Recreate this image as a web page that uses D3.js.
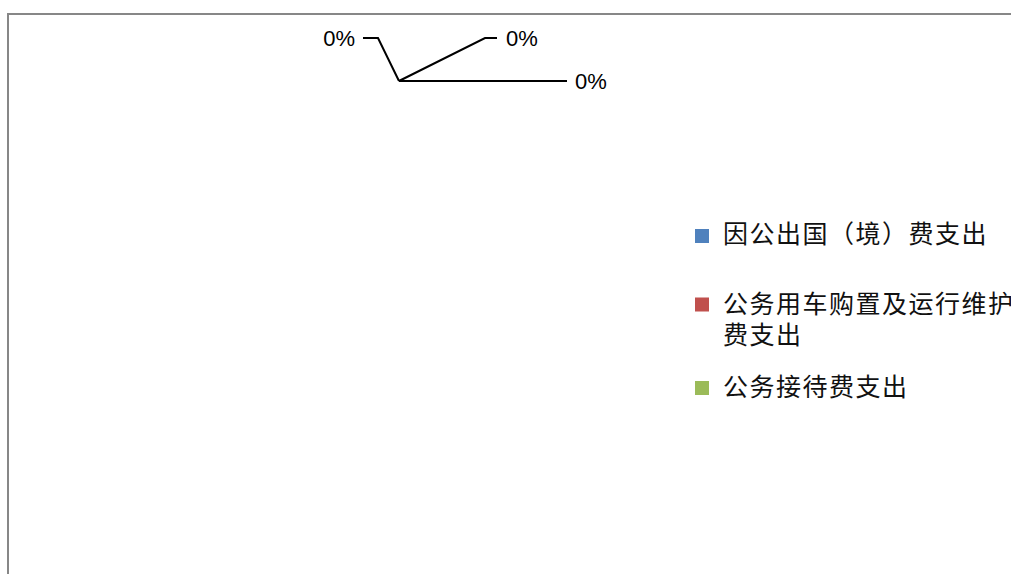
<!DOCTYPE html>
<html>
<head>
<meta charset="utf-8">
<script src="https://cdn.jsdelivr.net/npm/d3@7"></script>
<style>
html,body{margin:0;padding:0;background:#fff;overflow:hidden;}
svg{display:block;}
</style>
</head>
<body>
<svg id="chart" width="1011" height="574"></svg>
<script>
const categories = ["因公出国（境）费支出", "公务用车购置及运行维护费支出", "公务接待费支出"];
const values = [0, 0, 0];
const colors = ["#4F81BD", "#C0504D", "#9BBB59"];
const legendLines = [["因公出国（境）费支出"], ["公务用车购置及运行维护", "费支出"], ["公务接待费支出"]];

const svg = d3.select("#chart");

// chart border (extends past the window on right/bottom)
svg.append("rect")
  .attr("x", 8).attr("y", 14)
  .attr("width", 1200).attr("height", 800)
  .attr("fill", "#fff")
  .attr("stroke", "#878787")
  .attr("stroke-width", 2);

// pie
const cx = 399, cy = 291, r = 210;
const total = d3.sum(values);
const pie = d3.pie().sort(null).value(d => d)(values);
const arc = d3.arc().innerRadius(0).outerRadius(r);
const edgeArc = d3.arc().innerRadius(r).outerRadius(r);

const g = svg.append("g").attr("transform", `translate(${cx},${cy})`);
g.selectAll("path.slice").data(pie).join("path")
  .attr("class", "slice")
  .attr("d", arc)
  .attr("fill", (d, i) => colors[i]);

const pct = v => total > 0 ? d3.format(".0%")(v / total) : "0%";

// label layout: elbow offsets and text anchor relative to the slice anchor point
const labelLayout = [
  { elbow: [-21, -43], end: [-36, -43], text: [-44, -43], anchor: "end" },
  { elbow: [86, -43], end: [98, -43], text: [107, -43], anchor: "start" },
  { elbow: [120, 0], end: [168, 0], text: [176, 0], anchor: "start" }
];

pie.forEach((d, i) => {
  const [ax, ay] = edgeArc.centroid(d);
  const L = labelLayout[i];
  g.append("polyline")
    .attr("points", [[ax, ay], [ax + L.elbow[0], ay + L.elbow[1]], [ax + L.end[0], ay + L.end[1]]].map(p => p.join(",")).join(" "))
    .attr("fill", "none")
    .attr("stroke", "#000")
    .attr("stroke-width", 2);
  g.append("text")
    .attr("x", ax + L.text[0]).attr("y", ay + L.text[1])
    .attr("text-anchor", L.anchor)
    .attr("dominant-baseline", "central")
    .attr("font-family", "Liberation Sans, Arial, sans-serif")
    .attr("font-size", 22)
    .attr("fill", "#000")
    .text(pct(d.data));
});

// legend
const legendX = 695;
const rowY = [236, 304.5, 388];
const lg = svg.append("g");
categories.forEach((c, i) => {
  lg.append("rect")
    .attr("x", legendX).attr("y", rowY[i] - 7)
    .attr("width", 14).attr("height", 14)
    .attr("fill", colors[i]);
  legendLines[i].forEach((line, j) => {
    lg.append("text")
      .attr("font-family", "Noto Sans CJK SC, sans-serif")
      .attr("font-size", 25)
      .attr("letter-spacing", 1.5)
      .attr("fill", "#111")
      .attr("x", legendX + 28)
      .attr("y", rowY[i] - 3 + (i === 0 ? -1 : 0) + j * 31)
      .attr("dominant-baseline", "central")
      .text(line);
  });
});
</script>
</body>
</html>
